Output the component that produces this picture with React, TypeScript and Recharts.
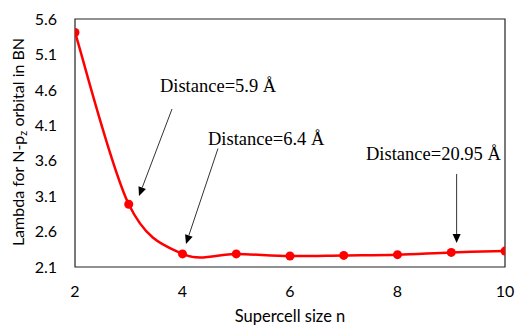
import React from 'react';
import { LineChart, Line, XAxis, YAxis, ReferenceArea, ReferenceLine, ReferenceDot } from 'recharts';

const supercellSizes = [2, 3, 4, 5, 6, 7, 8, 9, 10];
const lambdaValues = [5.41, 2.985, 2.285, 2.285, 2.255, 2.264, 2.274, 2.306, 2.325];
const xTicks = [2, 4, 6, 8, 10];
const yTicks = [2.1, 2.6, 3.1, 3.6, 4.1, 4.6, 5.1, 5.6];

const annotationLabels = ['Distance=5.9 Å', 'Distance=6.4 Å', 'Distance=20.95 Å'];
const labelAnchors = [
  { x: 3.58, y: 4.566 },
  { x: 4.474, y: 3.822 },
  { x: 7.414, y: 3.61 },
];
const arrowSegments = [
  [{ x: 3.805, y: 4.33 }, { x: 3.191, y: 3.102 }],
  [{ x: 4.66, y: 3.772 }, { x: 4.065, y: 2.425 }],
  [{ x: 9.1, y: 3.413 }, { x: 9.1, y: 2.439 }],
];

const data = supercellSizes.map((n, i) => ({ n, lambda: lambdaValues[i] }));

const SANS = 'Lato, "Liberation Sans", sans-serif';
const SERIF = '"Liberation Serif", "DejaVu Serif", serif';

// Excel-like smoothed line (Catmull-Rom style Bezier)
const excelCurve: any = (context: any) => {
  let pts: [number, number][] = [];
  return {
    areaStart() {},
    areaEnd() {},
    lineStart() {
      pts = [];
    },
    point(x: number, y: number) {
      pts.push([+x, +y]);
    },
    lineEnd() {
      const n = pts.length;
      if (n === 0) return;
      context.moveTo(pts[0][0], pts[0][1]);
      for (let i = 0; i < n - 1; i++) {
        const p0 = pts[Math.max(0, i - 1)];
        const p1 = pts[i];
        const p2 = pts[i + 1];
        const p3 = pts[Math.min(n - 1, i + 2)];
        const c1x = p1[0] + (p2[0] - p0[0]) / 6;
        const c1y = p1[1] + (p2[1] - p0[1]) / 6;
        const c2x = p2[0] - (p3[0] - p1[0]) / 6;
        const c2y = p2[1] - (p3[1] - p1[1]) / 6;
        context.bezierCurveTo(c1x, c1y, c2x, c2y, p2[0], p2[1]);
      }
    },
  };
};

const ArrowShape = (props: any) => {
  const { x1, y1, x2, y2 } = props;
  if ([x1, y1, x2, y2].some((v) => typeof v !== 'number' || isNaN(v))) return null;
  const dx = x2 - x1;
  const dy = y2 - y1;
  const len = Math.sqrt(dx * dx + dy * dy);
  const ux = dx / len;
  const uy = dy / len;
  const headLen = 9;
  const headW = 4;
  const bx = x2 - ux * headLen;
  const by = y2 - uy * headLen;
  const px = -uy;
  const py = ux;
  return (
    <g>
      <line x1={x1} y1={y1} x2={bx} y2={by} stroke="#333" strokeWidth={1} />
      <polygon
        points={`${x2},${y2} ${bx + px * headW},${by + py * headW} ${bx - px * headW},${by - py * headW}`}
        fill="#000"
      />
    </g>
  );
};

const makeTextShape = (label: string) => (props: any) => {
  const { cx, cy } = props;
  if (typeof cx !== 'number' || typeof cy !== 'number') return null;
  return (
    <text x={cx} y={cy} fontFamily={SERIF} fontSize={18.5} fill="#000">
      {label}
    </text>
  );
};

const YTitle = () => (
  <text
    transform="translate(24,142) rotate(-90)"
    textAnchor="middle"
    fontFamily={SANS}
    fontSize={16}
    fill="#000"
  >
    Lambda for N-p
    <tspan dy={3} fontSize={11}>z</tspan>
    <tspan dy={-3}> orbital in BN</tspan>
  </text>
);

export default function App() {
  return (
    <div style={{ position: 'absolute', left: 0, top: 0, width: 516, height: 326, background: '#fff' }}>
      <LineChart width={516} height={326} data={data} margin={{ top: 19, right: 11, bottom: 0, left: 0 }}>
        <XAxis
          dataKey="n"
          type="number"
          domain={[2, 10]}
          ticks={xTicks}
          allowDataOverflow
          axisLine={false}
          tickLine={false}
          tickSize={6}
          tickMargin={13}
          height={59}
          tick={{ fontFamily: SANS, fontSize: 16, fill: '#000' }}
          label={{
            content: (p: any) => {
              const vb = p.viewBox || { x: 75, width: 430 };
              return (
                <text x={vb.x + vb.width / 2} y={322} textAnchor="middle" fontFamily={SANS} fontSize={16.5} fill="#000">
                  Supercell size n
                </text>
              );
            },
          }}
        />
        <YAxis
          type="number"
          domain={[2.1, 5.6]}
          ticks={yTicks}
          allowDataOverflow
          axisLine={false}
          tickLine={false}
          tickSize={6}
          tickMargin={12}
          width={75}
          tickFormatter={(v: number) => v.toFixed(1)}
          tick={{ fontFamily: SANS, fontSize: 16, fill: '#000' }}
        />
        <ReferenceArea x1={2} x2={10} y1={2.1} y2={5.6} fill="none" fillOpacity={0} stroke="#222" strokeWidth={1.2} ifOverflow="visible" />
        {arrowSegments.map((seg, i) => (
          <ReferenceLine key={`a${i}`} segment={seg} ifOverflow="visible" shape={ArrowShape} />
        ))}
        {annotationLabels.map((lab, i) => (
          <ReferenceDot
            key={`t${i}`}
            x={labelAnchors[i].x}
            y={labelAnchors[i].y}
            r={0}
            ifOverflow="visible"
            shape={makeTextShape(lab)}
          />
        ))}
        <Line
          dataKey="lambda"
          type={excelCurve}
          stroke="#ff0000"
          strokeWidth={2.5}
          dot={{ r: 4.5, fill: '#ff0000', stroke: '#ff0000', strokeWidth: 0 }}
          activeDot={false}
          isAnimationActive={false}
        />
        <YTitle />
      </LineChart>
    </div>
  );
}
